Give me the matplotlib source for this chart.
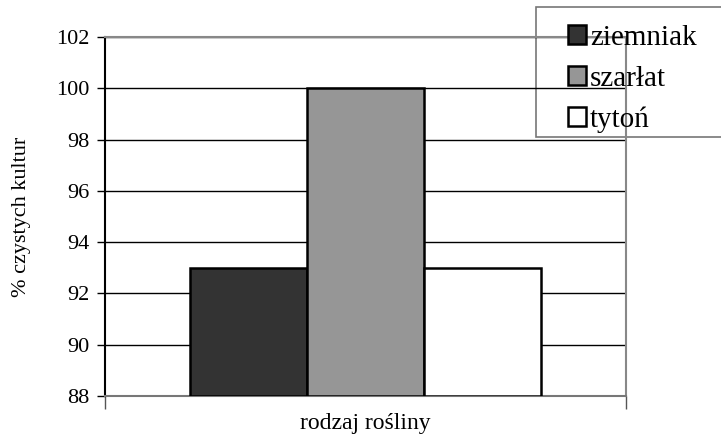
import numpy as np
import matplotlib.pyplot as plt
from matplotlib.patches import Rectangle

plt.rcParams['font.family'] = ['Liberation Serif', 'DejaVu Serif']

# dane
rosliny = ['ziemniak', 'szarłat', 'tytoń']
procent = [93, 100, 93]
kolory = ['#333333', '#969696', '#ffffff']
yticks = [88, 90, 92, 94, 96, 98, 100, 102]

fig = plt.figure(figsize=(7.21, 4.37), dpi=100)
ax = fig.add_axes([105/721, 1-396/437, 521/721, 359/437])
ax.set_facecolor('none')

w = 0.2245
offs = [-w, 0, w]
for i in range(len(rosliny)):
    ax.bar(offs[i], procent[i] - 88, bottom=88, width=w, color=kolory[i],
           edgecolor='black', linewidth=1.8, label=rosliny[i], zorder=3)

ax.set_xlim(-0.5, 0.5)
ax.set_ylim(88, 102)
ax.set_yticks(yticks)
ax.yaxis.grid(True, color='black', linewidth=1.0, zorder=0)
ax.set_axisbelow(True)
ax.tick_params(axis='y', labelsize=16, length=6, width=1, direction='out', pad=5)
ax.set_xticks([-0.5, 0.5])
ax.set_xticklabels(['', ''])
ax.tick_params(axis='x', length=9, width=1, color='#555555', direction='out')

for s in ['top', 'right']:
    ax.spines[s].set_color('#888888')
    ax.spines[s].set_linewidth(1.5)
ax.spines['bottom'].set_color('#777777')
ax.spines['bottom'].set_linewidth(1.5)
ax.spines['left'].set_color('black')
ax.spines['left'].set_linewidth(1.5)

ax.set_xlabel('rodzaj rośliny', fontsize=17, labelpad=0)
ax.set_ylabel('% czystych kultur', fontsize=16, labelpad=18)

# ramka legendy wychodzi poza obraz, linie osi ida nad nia
fig.patches.append(Rectangle((536/721, 1-137/437), 0.3, 130/437,
                             transform=fig.transFigure, facecolor='white',
                             edgecolor='#777777', linewidth=1.2, zorder=-1))
leg = fig.legend(loc='upper left', bbox_to_anchor=(568/721, 1-25/437),
                 frameon=False, fontsize=21, handlelength=0.6, handleheight=0.6,
                 handletextpad=0.15, labelspacing=0.5, borderpad=0, borderaxespad=0)
leg.set_zorder(6)

fig.savefig('out.png', dpi=100)
